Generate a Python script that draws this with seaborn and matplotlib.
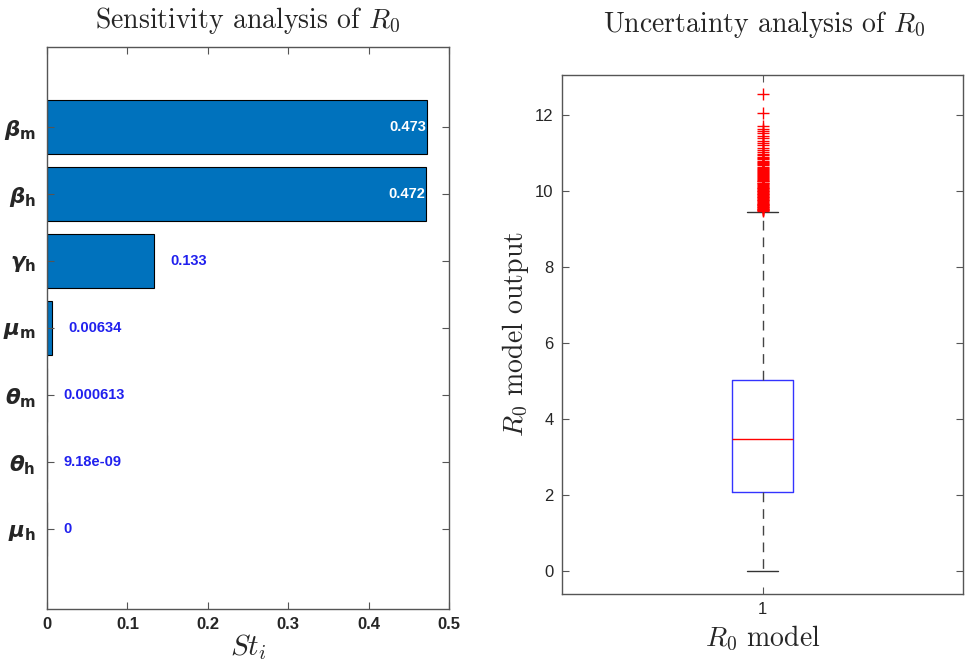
import numpy as np
import pandas as pd
import matplotlib
matplotlib.use("Agg")
import matplotlib.pyplot as plt
import seaborn as sns

# ---------------- data ----------------
param_labels = [r"$\boldsymbol{\beta}_{\mathbf{m}}$", r"$\boldsymbol{\beta}_{\mathbf{h}}$",
                r"$\boldsymbol{\gamma}_{\mathbf{h}}$", r"$\boldsymbol{\mu}_{\mathbf{m}}$",
                r"$\boldsymbol{\theta}_{\mathbf{m}}$", r"$\boldsymbol{\theta}_{\mathbf{h}}$",
                r"$\boldsymbol{\mu}_{\mathbf{h}}$"]
st_values = [0.473, 0.472, 0.133, 0.00634, 0.000613, 9.18e-09, 0.0]
st_text = ["0.473", "0.472", "0.133", "0.00634", "0.000613", "9.18e-09", "0"]
st_ticks = [0, 0.1, 0.2, 0.3, 0.4, 0.5]
st_ticklabels = ["0", "0.1", "0.2", "0.3", "0.4", "0.5"]

# R0 samples (core of the distribution) and the samples flagged as outliers
r0_core = [0.00, 0.55, 0.92, 1.18, 1.38, 1.54, 1.68, 1.81, 1.92, 2.01,
           2.08, 2.21, 2.36, 2.50, 2.65, 2.80, 2.94, 3.09, 3.23, 3.36,
           3.47, 3.62, 3.77, 3.93, 4.09, 4.25, 4.41, 4.58, 4.74, 4.89,
           5.03, 5.35, 5.70, 6.08, 6.50, 6.95, 7.45, 8.00, 8.55, 9.05,
           9.45]
r0_outliers = [9.47, 9.49, 9.50, 9.52, 9.53, 9.55, 9.57, 9.58, 9.60, 9.62,
               9.64, 9.65, 9.67, 9.69, 9.71, 9.73, 9.75, 9.77, 9.79, 9.81,
               9.83, 9.85, 9.87, 9.89, 9.91, 9.93, 9.95, 9.97, 9.99, 10.01,
               10.03, 10.05, 10.07, 10.09, 10.11, 10.13, 10.15, 10.18, 10.20, 10.22,
               10.25, 10.27, 10.29, 10.32, 10.34, 10.37, 10.39, 10.42, 10.44, 10.47,
               10.50, 10.52, 10.55, 10.58, 10.61, 10.64, 10.67, 10.70, 10.73, 10.76,
               10.79, 10.83, 10.86, 10.90, 10.94, 10.98, 11.03, 11.08, 11.14, 11.20,
               11.26, 11.32, 11.38, 11.45, 11.52, 11.58, 11.64, 11.70, 12.05, 12.55]
r0_model = "1"
r0_ticks = [0, 2, 4, 6, 8, 10, 12]

# ---------------- style ----------------
sns.set_theme(style="white")
plt.rcParams["font.family"] = ["Liberation Sans", "DejaVu Sans"]
plt.rcParams["axes.edgecolor"] = "#555555"
plt.rcParams["axes.linewidth"] = 1.0

fig = plt.figure(figsize=(9.66, 6.66), dpi=100)
W, H = 966.0, 666.0

def ax_rect(x0, y0, x1, y1):
    return [x0 / W, 1 - y1 / H, (x1 - x0) / W, (y1 - y0) / H]

ax1 = fig.add_axes(ax_rect(47, 47, 449, 609))
ax2 = fig.add_axes(ax_rect(562, 75, 963, 594))

# ---------------- left: sensitivity bars ----------------
df_st = pd.DataFrame({"param": param_labels, "St": st_values})
sns.barplot(data=df_st, x="St", y="param", orient="h", ax=ax1, color="#0072BD",
            saturation=1, width=0.8, edgecolor="black", linewidth=0.8)
ax1.set_axisbelow(False)
ax1.set_xlim(0, 0.5)
ax1.set_ylim(6 + 1.19, -1.19)
ax1.set_xticks(st_ticks)
ax1.set_xticklabels(st_ticklabels, fontsize=12, fontweight="bold")
for lab in ax1.get_yticklabels():
    lab.set_fontsize(15.5)
    lab.set_math_fontfamily("dejavusans")
ax1.set_ylabel("")
ax1.set_xlabel(r"$St_i$", fontsize=21, math_fontfamily="cm", labelpad=0)
ax1.tick_params(direction="in", length=5, top=True, right=True, bottom=True, left=True,
                width=0.8, color="#555555", pad=6)
ax1.tick_params(axis="y", pad=8)

for i, (v, t) in enumerate(zip(st_values, st_text)):
    if v > 0.3:
        ax1.text(v - 0.001, i, t, color="white", fontsize=10.5, fontweight="bold",
                 ha="right", va="center")
    else:
        ax1.text(v + 0.02, i, t, color="#2020ee", fontsize=10.5, fontweight="bold",
                 ha="left", va="center")

fig.text(248 / W, 1 - 28 / H, r"Sensitivity analysis of $R_0$", fontsize=20,
         family="cmr10", math_fontfamily="cm", ha="center", va="baseline")

# ---------------- right: uncertainty boxplot ----------------
df_core = pd.DataFrame({"model": [r0_model] * len(r0_core), "R0": r0_core})
df_out = pd.DataFrame({"model": [r0_model] * len(r0_outliers), "R0": r0_outliers})
sns.boxplot(data=df_core, x="model", y="R0", ax=ax2, width=0.15, fill=False,
            color="blue", linewidth=1.0, whis=1.5, showfliers=False,
            medianprops=dict(color="red", linewidth=1.0),
            whiskerprops=dict(color="#444444", linestyle=(0, (7, 5)), linewidth=1.0),
            capprops=dict(color="#333333", linewidth=1.0),
            boxprops=dict(color="#3333ff", linewidth=1.0))
sns.stripplot(data=df_out, x="model", y="R0", ax=ax2, jitter=False, marker="+",
              color="red", size=8, linewidth=1.0)
ax2.set_axisbelow(False)
ax2.set_xlim(-0.5, 0.5)
ax2.set_ylim(-0.6, 13.05)
ax2.set_yticks(r0_ticks)
ax2.set_yticklabels([str(t) for t in r0_ticks], fontsize=12)
for lab in ax2.get_xticklabels():
    lab.set_fontsize(12)
ax2.set_xlabel(r"$R_0$ model", fontsize=20, family="cmr10", math_fontfamily="cm",
               labelpad=5)
ax2.set_ylabel(r"$R_0$ model output", fontsize=20, family="cmr10",
               math_fontfamily="cm", labelpad=3)
ax2.tick_params(direction="in", length=5, top=True, right=True, bottom=True, left=True,
                width=0.8, color="#555555", pad=6)

fig.text(764 / W, 1 - 32 / H, r"Uncertainty analysis of $R_0$", fontsize=20,
         family="cmr10", math_fontfamily="cm", ha="center", va="baseline")

fig.savefig("out.png", dpi=100)
